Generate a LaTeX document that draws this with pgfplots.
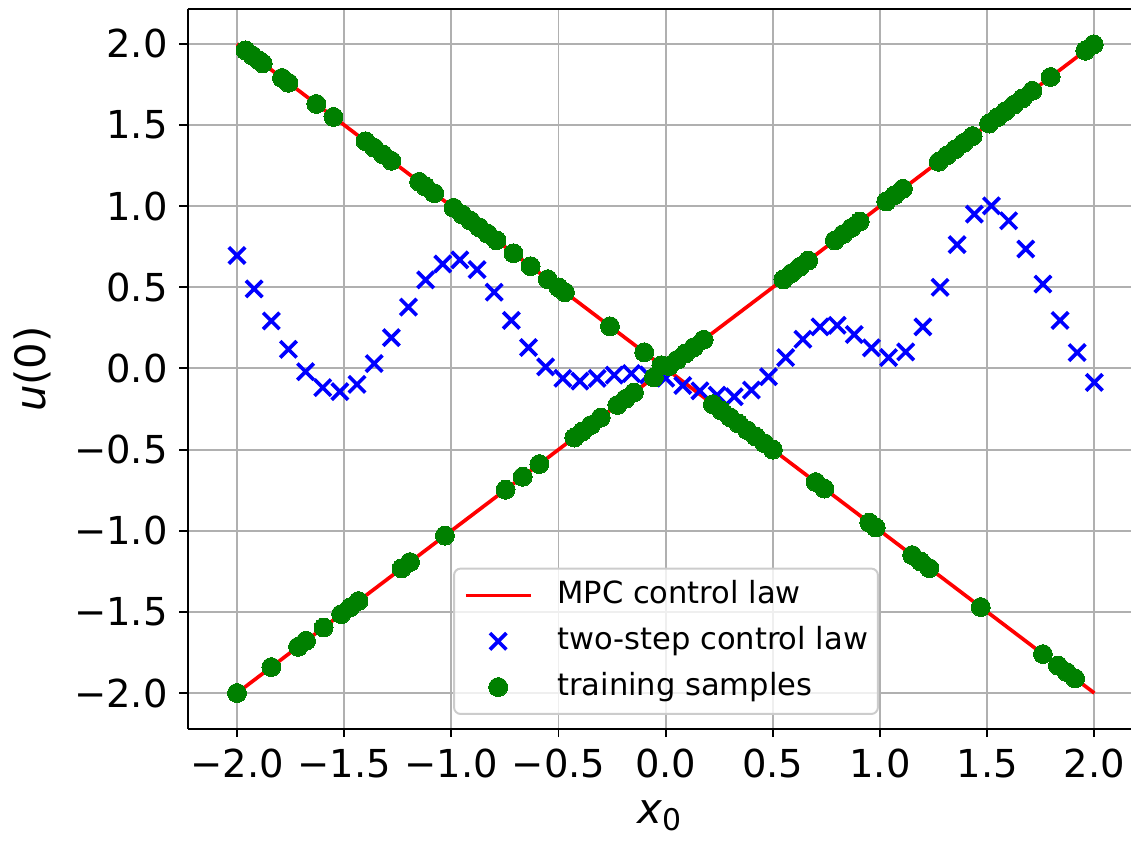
\documentclass[border=0pt]{standalone}
\usepackage{fontspec}
\setmainfont{DejaVu Sans}
\usepackage{pgfplots}
\pgfplotsset{compat=1.18}
\definecolor{mplgrid}{RGB}{176,176,176}
\definecolor{mplgreen}{RGB}{0,128,0}
\definecolor{legframe}{RGB}{204,204,204}

\begin{document}
\begin{tikzpicture}
\begin{axis}[
  scale only axis, width=284.25pt, height=216.9pt,
  xmin=-2.23, xmax=2.172, ymin=-2.221, ymax=2.215,
  axis x line=box, axis y line=left,
  axis line style={-, line width=0.6pt, black},
  xtick pos=bottom, ytick pos=left,
  tick align=outside, major tick length=2.5pt,
  every tick/.style={black, line width=0.6pt},
  xtick={-2,-1.5,-1,-0.5,0,0.5,1,1.5,2},
  ytick={-2,-1.5,-1,-0.5,0,0.5,1,1.5,2},
  xticklabels={−2.0,−1.5,−1.0,−0.5,0.0,0.5,1.0,1.5,2.0},
  yticklabels={−2.0,−1.5,−1.0,−0.5,0.0,0.5,1.0,1.5,2.0},
  tick label style={font=\fontsize{11.6}{14}\selectfont},
  grid=major, grid style={mplgrid, line width=0.6pt},
  xlabel={\textit{x}\raisebox{-2pt}{\fontsize{9}{10}\selectfont 0}},
  ylabel={\textit{u}(0)},
  label style={font=\fontsize{12.6}{15}\selectfont},
  legend cell align=left,
  legend image code/.code={\draw[mark repeat=2,mark phase=2,#1] plot coordinates {(0pt,0pt) (9.75pt,0pt) (19.5pt,0pt)};},
  legend style={at={(axis cs:-0.992,-1.227)}, anchor=north west,
    draw=legframe, line width=0.6pt, rounded corners=2pt,
    fill=white, fill opacity=0.8, text opacity=1,
    inner xsep=3pt, inner ysep=3.6pt, row sep=4.8pt,
    font=\fontsize{9.2}{11}\selectfont,
    nodes={inner sep=0pt, text height=7pt, text depth=2pt},
    /tikz/every odd column/.style={column sep=7.5pt}},
]
\addlegendimage{red, line width=1.1pt, opacity=1}
\addlegendentry{MPC control law}
\addlegendimage{only marks, mark=x, blue, line width=1.1pt, mark size=3.5pt, opacity=1}
\addlegendentry{two-step control law}
\addlegendimage{only marks, mark=*, color=mplgreen, mark size=2.85pt, mark options={line width=0pt, draw=mplgreen, fill=mplgreen}, opacity=1}
\addlegendentry{training samples}

% two-step control law
\addplot[forget plot, only marks, mark=x, blue, line width=1.1pt, mark size=3.5pt] coordinates {
(-2.00,0.696) (-1.92,0.490) (-1.84,0.293) (-1.76,0.118) (-1.68,-0.020)
(-1.60,-0.118) (-1.52,-0.143) (-1.44,-0.098) (-1.36,0.030) (-1.28,0.190)
(-1.20,0.378) (-1.12,0.546) (-1.04,0.644) (-0.96,0.669) (-0.88,0.609)
(-0.80,0.470) (-0.72,0.296) (-0.64,0.129) (-0.56,0.010) (-0.48,-0.061)
(-0.40,-0.078) (-0.32,-0.061) (-0.24,-0.041) (-0.16,-0.031) (-0.08,-0.040)
(0.00,-0.060) (0.08,-0.105) (0.16,-0.138) (0.24,-0.164) (0.32,-0.174)
(0.40,-0.133) (0.48,-0.051) (0.56,0.067) (0.64,0.180) (0.72,0.256)
(0.80,0.266) (0.88,0.209) (0.96,0.127) (1.04,0.067) (1.12,0.102)
(1.20,0.256) (1.28,0.500) (1.36,0.763) (1.44,0.951) (1.52,1.002)
(1.60,0.910) (1.68,0.736) (1.76,0.520) (1.84,0.296) (1.92,0.098)
(2.00,-0.086)};

% training samples
\addplot[forget plot, only marks, mark=*, color=mplgreen, mark size=2.85pt, mark options={line width=0pt, draw=mplgreen, fill=mplgreen}] coordinates {
(-1.96,1.96) (-1.93,1.93) (-1.90,1.90) (-1.88,1.88) (-1.79,1.79) (-1.76,1.76)
(-1.63,1.63) (-1.55,1.55) (-1.40,1.40) (-1.36,1.36) (-1.32,1.32) (-1.28,1.28)
(-1.15,1.15) (-1.12,1.12) (-1.08,1.08) (-0.99,0.99) (-0.95,0.95) (-0.91,0.91)
(-0.87,0.87) (-0.83,0.83) (-0.79,0.79) (-0.71,0.71) (-0.63,0.63) (-0.55,0.55)
(-0.50,0.50) (-0.47,0.47) (-0.26,0.26) (-0.10,0.10) (-0.02,0.02)
(0.22,-0.22) (0.26,-0.26) (0.30,-0.30) (0.34,-0.34) (0.38,-0.38) (0.42,-0.42)
(0.46,-0.46) (0.50,-0.50) (0.70,-0.70) (0.74,-0.74) (0.95,-0.95) (0.98,-0.98)
(1.15,-1.15) (1.19,-1.19) (1.23,-1.23) (1.47,-1.47) (1.76,-1.76) (1.83,-1.83)
(1.87,-1.87) (1.91,-1.91)
(-2.00,-2.00) (-1.84,-1.84) (-1.715,-1.715) (-1.678,-1.678) (-1.596,-1.596)
(-1.514,-1.514) (-1.472,-1.472) (-1.433,-1.433) (-1.232,-1.232) (-1.193,-1.193)
(-1.03,-1.03) (-0.747,-0.747) (-0.667,-0.667) (-0.589,-0.589) (-0.426,-0.426)
(-0.388,-0.388) (-0.349,-0.349) (-0.303,-0.303) (-0.225,-0.225) (-0.187,-0.187)
(-0.148,-0.148) (-0.055,-0.055)
(0.015,0.015) (0.053,0.053) (0.092,0.092) (0.131,0.131) (0.177,0.177)
(0.549,0.549) (0.588,0.588) (0.626,0.626) (0.665,0.665) (0.789,0.789)
(0.828,0.828) (0.866,0.866) (0.905,0.905) (1.029,1.029) (1.068,1.068)
(1.107,1.107) (1.274,1.274) (1.312,1.312) (1.351,1.351) (1.390,1.390)
(1.432,1.432) (1.509,1.509) (1.548,1.548) (1.586,1.586) (1.625,1.625)
(1.664,1.664) (1.711,1.711) (1.796,1.796) (1.958,1.958) (1.997,1.997)};

% MPC control law
\addplot[forget plot, red, line width=1.1pt] coordinates {(-2,2) (2,-2)};
\addplot[forget plot, red, line width=1.1pt] coordinates {(-2,-2) (2,2)};
\end{axis}
\path (current axis.south west) ++(-56.55pt,-33pt) coordinate (bbsw);
\path (current axis.north east) ++(0pt,2.7pt) coordinate (bbne);
\path (bbsw) rectangle (bbne);
\end{tikzpicture}
\end{document}
